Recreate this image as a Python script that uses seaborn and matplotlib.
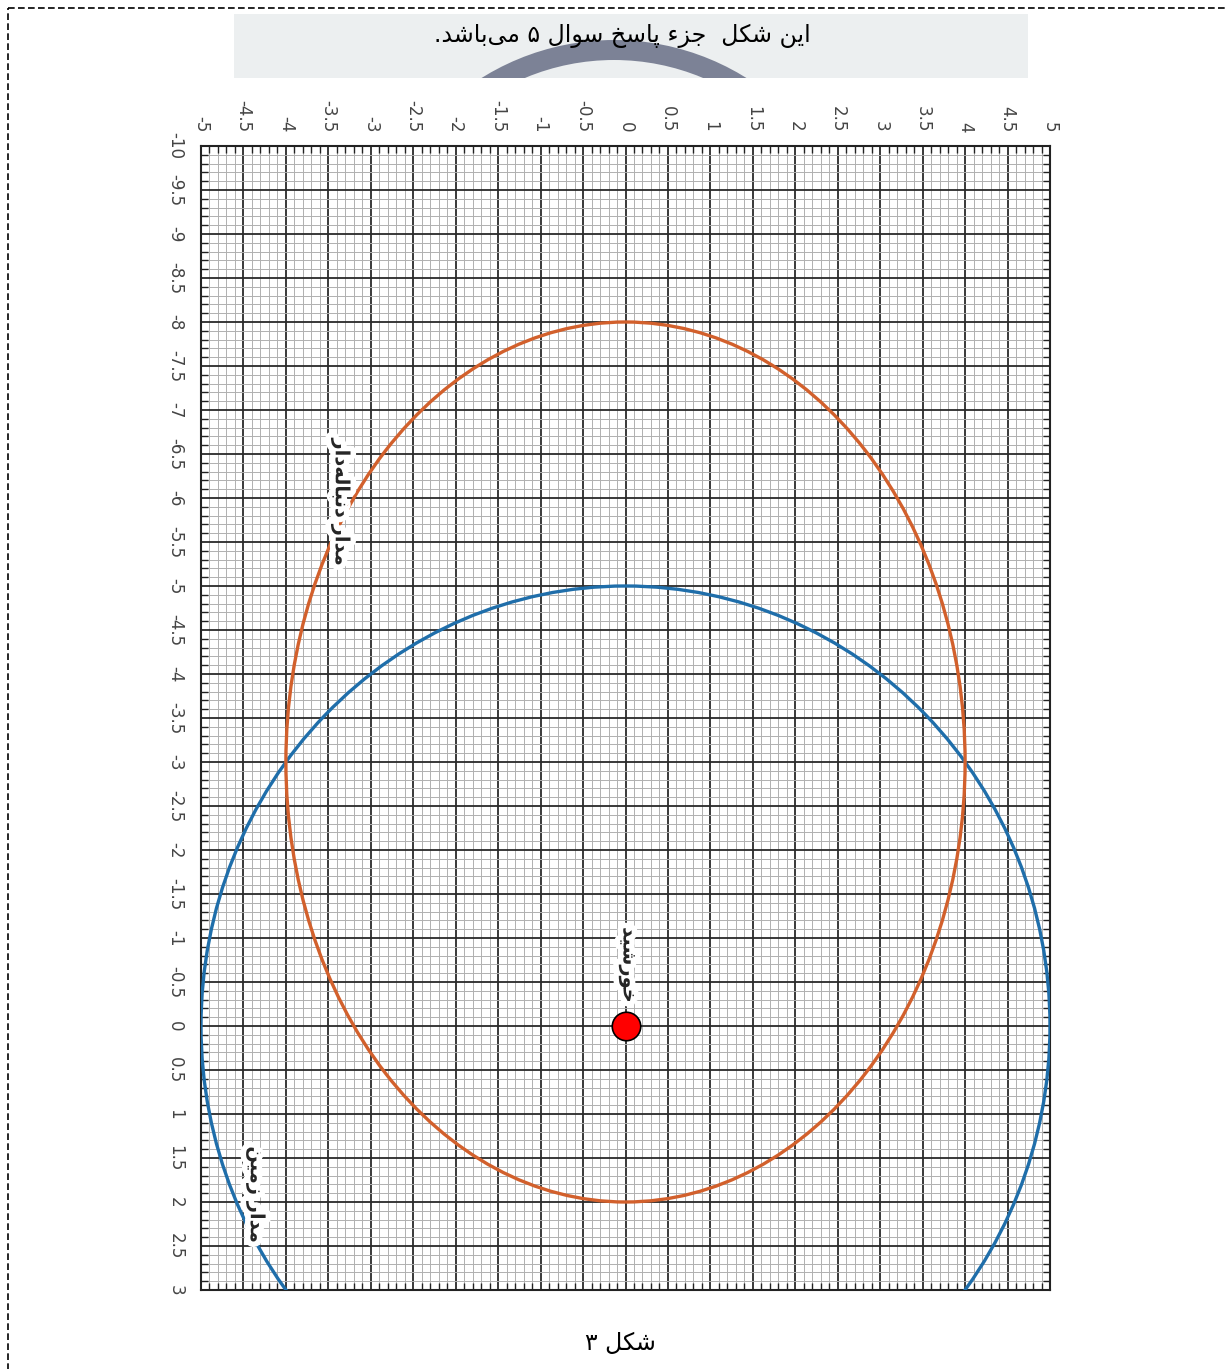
import numpy as np
import seaborn as sns
import matplotlib
matplotlib.use("Agg")
import matplotlib.pyplot as plt
from matplotlib.patches import Ellipse, Rectangle, Wedge
from matplotlib.ticker import MultipleLocator
import matplotlib.patheffects as pe

# ---- data ----
x_range = [-5, 5]
y_range = [-10, 3]
earth_orbit = {"center": (0, 0), "width": 10, "height": 10}     # circle r=5
comet_orbit = {"center": (0, -3), "width": 8, "height": 10}     # a=4, b=5
sun_x = [0]
sun_y = [0]

title_text = "این شکل  جزء پاسخ سوال ۵ می‌باشد."
caption_text = "شکل ۳"
comet_label = "مدار دنباله‌دار"
earth_label = "مدار زمین"
sun_label = "خورشید"

# ---- minimal Arabic/Persian shaping (matplotlib has none) ----
FORMS = {
    "ا": ("\uFE8D", "\uFE8E", None, None),
    "ب": ("\uFE8F", "\uFE90", "\uFE91", "\uFE92"),
    "پ": ("\uFB56", "\uFB57", "\uFB58", "\uFB59"),
    "ت": ("\uFE95", "\uFE96", "\uFE97", "\uFE98"),
    "ج": ("\uFE9D", "\uFE9E", "\uFE9F", "\uFEA0"),
    "خ": ("\uFEA5", "\uFEA6", "\uFEA7", "\uFEA8"),
    "د": ("\uFEA9", "\uFEAA", None, None),
    "ر": ("\uFEAD", "\uFEAE", None, None),
    "ز": ("\uFEAF", "\uFEB0", None, None),
    "س": ("\uFEB1", "\uFEB2", "\uFEB3", "\uFEB4"),
    "ش": ("\uFEB5", "\uFEB6", "\uFEB7", "\uFEB8"),
    "ک": ("\uFB8E", "\uFB8F", "\uFB90", "\uFB91"),
    "ل": ("\uFEDD", "\uFEDE", "\uFEDF", "\uFEE0"),
    "م": ("\uFEE1", "\uFEE2", "\uFEE3", "\uFEE4"),
    "ن": ("\uFEE5", "\uFEE6", "\uFEE7", "\uFEE8"),
    "ه": ("\uFEE9", "\uFEEA", "\uFEEB", "\uFEEC"),
    "و": ("\uFEED", "\uFEEE", None, None),
    "ی": ("\uFBFC", "\uFBFD", "\uFBFE", "\uFBFF"),
}


def shape(text):
    out = []
    for i, ch in enumerate(text):
        if ch not in FORMS:
            if ch != "\u200c":
                out.append(ch)
            continue
        iso, fin, ini, med = FORMS[ch]
        prev = text[i - 1] if i > 0 else ""
        nxt = text[i + 1] if i + 1 < len(text) else ""
        pj = prev in FORMS and FORMS[prev][2] is not None
        nj = ini is not None and nxt in FORMS
        if pj and nj:
            out.append(med)
        elif pj:
            out.append(fin)
        elif nj:
            out.append(ini)
        else:
            out.append(iso)
    return "".join(out)[::-1]


sns.set_style("white")
plt.rcParams["font.family"] = ["DejaVu Sans"]

fig = plt.figure(figsize=(12.27, 13.69), dpi=100)

# page decorations in pixel coordinates
page = fig.add_axes([0, 0, 1, 1])
page.set_xlim(0, 1227)
page.set_ylim(1369, 0)
page.axis("off")
page.add_patch(Rectangle((8, 8), 1240, 1400, fill=False, ec="black",
                         lw=1.2, ls=(0, (4, 2))))
box = Rectangle((234, 14), 794, 64, fc="#eceff0", ec="none")
page.add_patch(box)
ring = Wedge((614, 290), 250, 180, 360, width=20, fc="#7c8296", ec="none")
page.add_patch(ring)
ring.set_clip_path(box)
page.text(622, 36, shape(title_text), ha="center", va="center",
          fontsize=17, color="black")
page.text(620, 1343, shape(caption_text), ha="center", va="center",
          fontsize=17, color="black")

# main chart
ax = fig.add_axes([201 / 1227, 1 - 1290 / 1369, 849 / 1227, 1144 / 1369])
ax.set_xlim(*x_range)
ax.set_ylim(y_range[1], y_range[0])

ax.xaxis.set_major_locator(MultipleLocator(0.5))
ax.yaxis.set_major_locator(MultipleLocator(0.5))
ax.xaxis.set_minor_locator(MultipleLocator(0.1))
ax.yaxis.set_minor_locator(MultipleLocator(0.1))
ax.xaxis.set_major_formatter(lambda v, p: f"{v:g}")
ax.yaxis.set_major_formatter(lambda v, p: f"{v:g}")
ax.xaxis.tick_top()
ax.tick_params(axis="x", which="major", labelrotation=-90, length=0, pad=10,
               labelsize=12, labelcolor="#444444")
ax.tick_params(axis="y", which="major", labelrotation=-90, length=0, pad=12,
               labelsize=12, labelcolor="#444444")
for lab in ax.get_yticklabels():
    lab.set_verticalalignment("center")
ax.tick_params(which="minor", direction="in", length=5, width=1,
               color="#222222", top=True, left=True, bottom=True, right=True)
ax.grid(which="minor", color="#b0b0b0", lw=0.7)
ax.grid(which="major", color="#2a2a2a", lw=1.3)
ax.set_axisbelow(True)
for s in ax.spines.values():
    s.set_color("#222222")
    s.set_linewidth(1.5)

ax.add_patch(Ellipse(earth_orbit["center"], earth_orbit["width"],
                     earth_orbit["height"], fill=False, ec="#1f6eaa", lw=2.4,
                     zorder=3))
ax.add_patch(Ellipse(comet_orbit["center"], comet_orbit["width"],
                     comet_orbit["height"], fill=False, ec="#d2602c", lw=2.4,
                     zorder=3))
sns.scatterplot(x=sun_x, y=sun_y, ax=ax, s=420, color="#ff0000",
                edgecolor="black", linewidth=1.2, zorder=5)

glow = [pe.withStroke(linewidth=8, foreground="white")]
ax.text(-3.36, -5.95, shape(comet_label), rotation=-90, ha="center",
        va="center", fontsize=14, fontweight="bold", path_effects=glow,
        zorder=6)
ax.text(0.03, -0.69, shape(sun_label), rotation=-90, ha="center",
        va="center", fontsize=14, fontweight="bold", path_effects=glow,
        zorder=6)
ax.text(-4.36, 1.92, shape(earth_label), rotation=-90, ha="center",
        va="center", fontsize=14, fontweight="bold", path_effects=glow,
        zorder=6)

fig.savefig("out.png", dpi=100)
